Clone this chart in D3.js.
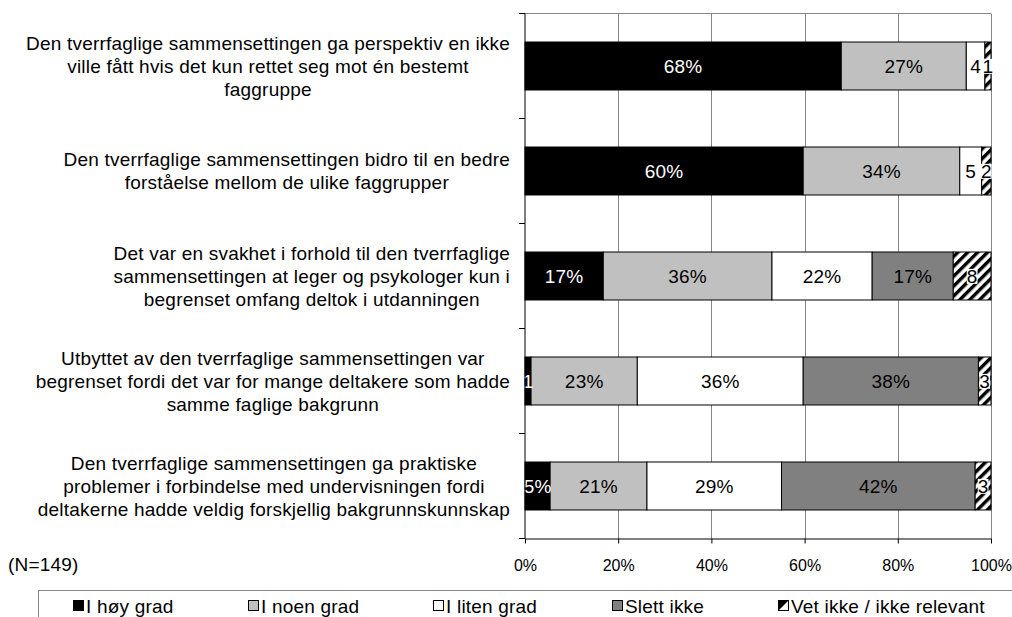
<!DOCTYPE html>
<html>
<head>
<meta charset="utf-8">
<script src="https://cdn.jsdelivr.net/npm/d3@7"></script>
<style>
    body { margin: 0; background: #fff; }
    svg text { font-family: "Liberation Sans", Arial, sans-serif; }
</style>
</head>
<body>
<svg id="chart" width="1012" height="617"></svg>
<script>
/*jslint browser, white */
/*global d3 */

var questions = [
    ["Den tverrfaglige sammensettingen ga perspektiv en ikke",
     "ville fått hvis det kun rettet seg mot én bestemt",
     "faggruppe"],
    ["Den tverrfaglige sammensettingen bidro til en bedre",
     "forståelse mellom de ulike faggrupper"],
    ["Det var en svakhet i forhold til den tverrfaglige",
     "sammensettingen at leger og psykologer kun i",
     "begrenset omfang deltok i utdanningen"],
    ["Utbyttet av den tverrfaglige sammensettingen var",
     "begrenset fordi det var for mange deltakere som hadde",
     "samme faglige bakgrunn"],
    ["Den tverrfaglige sammensettingen ga praktiske",
     "problemer i forbindelse med undervisningen fordi",
     "deltakerne hadde veldig forskjellig bakgrunnskunnskap"]];

var seriesNames = ["I høy grad", "I noen grad", "I liten grad",
                   "Slett ikke", "Vet ikke / ikke relevant"];
var seriesKeys = ["hoy", "noen", "liten", "slett", "vet"];

//percent of respondents, per question (top to bottom)
var hoyGrad = [67.8, 59.7, 16.8, 1.3, 5.4];
var noenGrad = [26.8, 33.6, 36.2, 22.8, 20.8];
var litenGrad = [4.0, 4.7, 21.5, 35.6, 28.9];
var slettIkke = [0, 0, 17.4, 37.6, 41.6];
var vetIkke = [1.3, 2.0, 8.1, 2.7, 3.4];

var xTicks = [0, 0.2, 0.4, 0.6, 0.8, 1];
var nLabel = "(N=149)";

var chart = (function () {
    "use strict";

    var fills = {hoy: "#000000", noen: "#c0c0c0", liten: "#ffffff",
                 slett: "#808080", vet: "url(#hatch)"},
        labelFont = "19px", spacing = "0.2px";

    function tableRows () {
        return questions.map(function (q, i) {
            return {idx: i, hoy: hoyGrad[i], noen: noenGrad[i],
                    liten: litenGrad[i], slett: slettIkke[i],
                    vet: vetIkke[i]}; });
    }


    function segLabel (key, v) {
        if(!v) {
            return ""; }
        if(v >= 5 && key !== "vet") {
            return Math.round(v) + "%"; }
        return String(Math.round(v));
    }


    function addDefs (svg) {
        var pat = svg.append("defs").append("pattern")
            .attr("id", "hatch")
            .attr("patternUnits", "userSpaceOnUse")
            .attr("width", 7)
            .attr("height", 7)
            .attr("patternTransform", "rotate(45)");
        pat.append("rect").attr("width", 7).attr("height", 7)
            .attr("fill", "#fff");
        pat.append("rect").attr("width", 3.4).attr("height", 7)
            .attr("fill", "#000");
    }


    function drawFrame (svg, x, bounds) {
        var top = bounds[0], bot = bounds[bounds.length - 1];
        svg.append("g").selectAll("line")
            .data(xTicks.slice(1))
            .join("line")
            .attr("x1", function (d) { return Math.round(x(d)) + 0.5; })
            .attr("x2", function (d) { return Math.round(x(d)) + 0.5; })
            .attr("y1", top)
            .attr("y2", bot)
            .attr("stroke", "#868686");
        svg.append("line")
            .attr("x1", x(0)).attr("x2", x(1))
            .attr("y1", top).attr("y2", top)
            .attr("stroke", "#868686");
    }


    function drawAxes (svg, x, bounds) {
        var bot = bounds[bounds.length - 1], ax;
        ax = svg.append("g")
            .attr("transform", "translate(0," + bot + ")")
            .call(d3.axisBottom(x).tickValues(xTicks)
                  .tickFormat(d3.format(".0%"))
                  .tickSize(5).tickSizeOuter(0));
        ax.select(".domain").attr("stroke", "#000");
        ax.selectAll(".tick line").attr("stroke", "#000");
        ax.selectAll("text")
            .attr("y", 21)
            .attr("font-size", "16px")
            .attr("fill", "#000");
        svg.append("line")
            .attr("x1", x(0)).attr("x2", x(0))
            .attr("y1", bounds[0]).attr("y2", bot)
            .attr("stroke", "#000");
        svg.append("g").selectAll("line")
            .data(bounds)
            .join("line")
            .attr("x1", x(0) - 6).attr("x2", x(0))
            .attr("y1", function (d) { return d; })
            .attr("y2", function (d) { return d; })
            .attr("stroke", "#000");
    }


    function drawBars (svg, x, y) {
        var stacked, layers;
        stacked = d3.stack().keys(seriesKeys)
            .offset(d3.stackOffsetExpand)(tableRows());
        layers = svg.append("g").selectAll("g")
            .data(stacked)
            .join("g")
            .attr("fill", function (s) { return fills[s.key]; });
        layers.selectAll("rect")
            .data(function (s) { return s.filter(function (d) {
                return d[1] > d[0]; }); })
            .join("rect")
            .attr("x", function (d) { return x(d[0]); })
            .attr("y", function (d) { return y(d.data.idx); })
            .attr("width", function (d) { return x(d[1]) - x(d[0]); })
            .attr("height", y.bandwidth())
            .attr("stroke", "#000")
            .attr("stroke-width", 1);
        stacked.forEach(function (s) {
            s.forEach(function (d) {
                var v = d.data[s.key], txt = segLabel(s.key, v), t, bb,
                    cx = (x(d[0]) + x(d[1])) / 2,
                    cy = y(d.data.idx) + y.bandwidth() / 2;
                if(!txt) {
                    return; }
                t = svg.append("text")
                    .attr("x", cx)
                    .attr("y", cy)
                    .attr("dy", "0.36em")
                    .attr("text-anchor", "middle")
                    .attr("font-size", labelFont)
                    .attr("letter-spacing", spacing)
                    .attr("fill", s.key === "hoy" ? "#fff" : "#000")
                    .text(txt);
                if(s.key === "vet") {
                    bb = t.node().getBBox();
                    svg.insert("rect", function () { return t.node(); })
                        .attr("x", bb.x)
                        .attr("y", bb.y + 3)
                        .attr("width", bb.width)
                        .attr("height", bb.height - 6)
                        .attr("fill", "#fff"); } }); });
    }


    function drawQuestions (svg, y) {
        var lineH = 23, right = 510;
        questions.forEach(function (lines, i) {
            var g = svg.append("g"), maxw = 0,
                cy = y(i) + y.bandwidth() / 2;
            lines.forEach(function (line, j) {
                var t = g.append("text")
                    .attr("y", cy + (j - (lines.length - 1) / 2) * lineH)
                    .attr("dy", "0.36em")
                    .attr("text-anchor", "middle")
                    .attr("font-size", labelFont)
                    .attr("letter-spacing", spacing)
                    .attr("fill", "#000")
                    .text(line);
                maxw = Math.max(maxw, t.node().getComputedTextLength()); });
            g.selectAll("text").attr("x", right - maxw / 2); });
    }


    function drawLegend (svg) {
        var xs = [73, 248, 433, 612, 778], items;
        svg.append("rect")
            .attr("x", 38.5).attr("y", 590.5)
            .attr("width", 1100).attr("height", 100)
            .attr("fill", "none")
            .attr("stroke", "#868686");
        items = svg.append("g").selectAll("g")
            .data(seriesKeys)
            .join("g")
            .attr("transform", function (d, i) {
                return "translate(" + xs[i] + ",600)"; });
        items.append("rect")
            .attr("x", 0.5).attr("y", 0.5)
            .attr("width", 10).attr("height", 10)
            .attr("fill", function (d) {
                return d === "vet" ? "#fff" : fills[d]; })
            .attr("stroke", "#000");
        items.filter(function (d) { return d === "vet"; })
            .append("path")
            .attr("d", "M0.5,10.5L10.5,0.5L0.5,0.5Z")
            .attr("fill", "#000");
        items.append("text")
            .attr("x", 13)
            .attr("y", 6)
            .attr("dy", "0.36em")
            .attr("font-size", labelFont)
            .attr("letter-spacing", spacing)
            .attr("fill", "#000")
            .text(function (d, i) { return seriesNames[i]; });
    }


    function display () {
        var svg = d3.select("#chart"), x, y, bounds;
        addDefs(svg);
        x = d3.scaleLinear().domain([0, 1]).range([525, 991]);
        y = d3.scaleBand().domain(d3.range(questions.length))
            .range([13.5, 538.5])
            .paddingInner(0.543)
            .paddingOuter(0.2715);
        bounds = d3.range(questions.length + 1).map(function (k) {
            return 13.5 + k * y.step(); });
        drawFrame(svg, x, bounds);
        drawBars(svg, x, y);
        drawAxes(svg, x, bounds);
        drawQuestions(svg, y);
        svg.append("text")
            .attr("x", 8)
            .attr("y", 564)
            .attr("dy", "0.36em")
            .attr("font-size", labelFont)
            .attr("letter-spacing", spacing)
            .text(nLabel);
        drawLegend(svg);
    }


return {
    init: function () {
        display();
    }
};
}());

chart.init();
</script>
</body>
</html>
